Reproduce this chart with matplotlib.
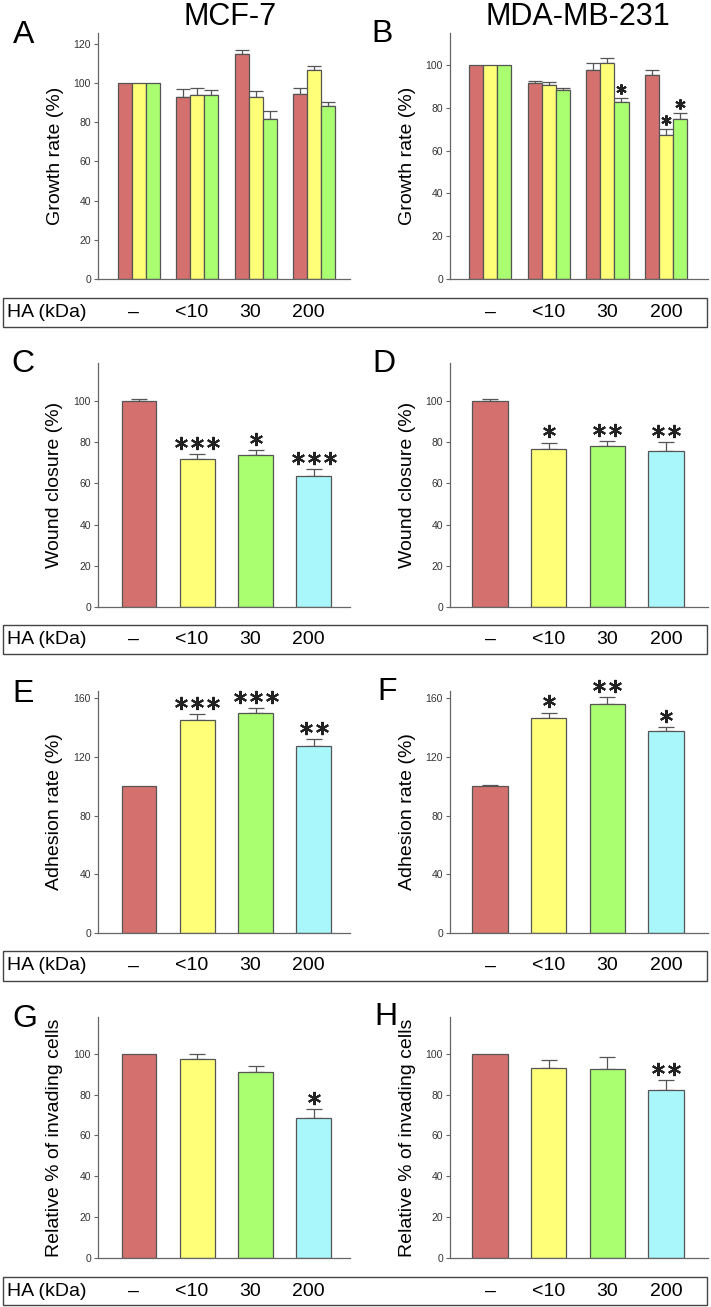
import matplotlib.pyplot as plt
from matplotlib.patches import Rectangle
from matplotlib.transforms import ScaledTranslation, blended_transform_factory

plt.rcParams['font.family'] = ['Liberation Sans', 'DejaVu Sans']

W, H = 711, 1307

# HA molecular weight groups shown under every panel
ha_groups = ['\u2013', '<10', '30', '200']
cell_lines = ['MCF-7', 'MDA-MB-231']

# A / B: growth rate, three series per HA group
growth_mcf7_s1 = [100, 92.9, 114.6, 94.6]
growth_mcf7_s2 = [100, 94.1, 92.8, 106.7]
growth_mcf7_s3 = [100, 94.1, 81.7, 88.5]
growth_mcf7_e1 = [0, 4.1, 2.0, 2.8]
growth_mcf7_e2 = [0, 3.4, 3.2, 2.1]
growth_mcf7_e3 = [0, 2.1, 4.1, 1.9]

growth_mda_s1 = [100, 91.6, 97.8, 95.5]
growth_mda_s2 = [100, 90.5, 100.8, 67.1]
growth_mda_s3 = [100, 88.5, 82.7, 74.8]
growth_mda_e1 = [0, 1.1, 3.3, 2.2]
growth_mda_e2 = [0, 1.6, 2.5, 3.1]
growth_mda_e3 = [0, 0.9, 1.9, 2.6]
growth_mda_stars2 = [0, 0, 0, 1]
growth_mda_stars3 = [0, 0, 1, 1]

# C / D: wound closure
wound_mcf7 = [100, 72.0, 73.7, 63.7]
wound_mcf7_err = [0.8, 2.1, 2.3, 3.1]
wound_mcf7_stars = [0, 3, 1, 3]
wound_mda = [100, 76.9, 78.3, 75.9]
wound_mda_err = [1.0, 2.9, 2.4, 4.2]
wound_mda_stars = [0, 1, 2, 2]

# E / F: adhesion
adh_mcf7 = [100, 144.9, 150.2, 127.6]
adh_mcf7_err = [0, 4.2, 3.4, 4.8]
adh_mcf7_stars = [0, 3, 3, 2]
adh_mda = [100, 146.7, 155.9, 137.5]
adh_mda_err = [0.9, 3.6, 5.0, 2.9]
adh_mda_stars = [0, 1, 2, 1]

# G / H: invasion
inv_mcf7 = [100, 97.4, 91.0, 68.7]
inv_mcf7_err = [0, 2.3, 2.8, 4.4]
inv_mcf7_stars = [0, 0, 0, 1]
inv_mda = [100, 92.8, 92.5, 82.4]
inv_mda_err = [0, 4.1, 5.7, 4.9]
inv_mda_stars = [0, 0, 0, 2]

RED = '#d4716f'
YEL = '#ffff78'
GRN = '#a9ff70'
CYN = '#a9f7fa'
EDGE = '#555555'

fig = plt.figure(figsize=(W / 100, H / 100), dpi=100)

rows = [(33, 279), (363, 607), (691, 933), (1017, 1258)]
cols = [(98, 350, 139, 58.3), (450, 708, 490, 58.7)]


def make_axes(r, c):
    top, bottom = rows[r]
    left, right, c0, step = cols[c]
    ax = fig.add_axes([left / W, 1 - bottom / H, (right - left) / W, (bottom - top) / H])
    ax.set_xlim((left - c0) / step, (right - c0) / step)
    return ax


def style(ax, ytop, ticks, ylabel):
    ax.set_ylim(0, ytop)
    ax.set_yticks(ticks)
    ax.set_xticks([])
    for s in ['top', 'right']:
        ax.spines[s].set_visible(False)
    for s in ['left', 'bottom']:
        ax.spines[s].set_color('#666666')
        ax.spines[s].set_linewidth(0.9)
    ax.tick_params(axis='y', length=3, width=0.8, color='#666666',
                   labelsize=7.5, labelcolor='#333333', pad=2)
    w_px = ax.get_position().width * W
    ax.text(-43 / w_px, 0.5, ylabel, transform=ax.transAxes, rotation=90,
            ha='center', va='center', fontsize=14)


def bars(ax, xs, vals, errs, color, width, cap):
    ax.bar(xs, vals, width, color=color, edgecolor=EDGE, linewidth=0.9, zorder=2)
    ex = [x for x, e in zip(xs, errs) if e > 0]
    ev = [v for v, e in zip(vals, errs) if e > 0]
    ee = [e for e in errs if e > 0]
    ax.errorbar(ex, ev, yerr=[[0] * len(ee), ee], fmt='none', ecolor=EDGE,
                elinewidth=0.9, capsize=cap, capthick=0.9, zorder=1)


def stars(ax, xs, vals, errs, counts, ms, lift, gap):
    for x, v, e, n in zip(xs, vals, errs, counts):
        for k in range(n):
            off = ScaledTranslation((k - (n - 1) / 2) * gap / 72, lift / 72, fig.dpi_scale_trans)
            ax.plot([x], [v + e], marker=(6, 2, 0), ms=ms, mew=1.5, color='#222222',
                    transform=ax.transData + off, clip_on=False, zorder=3)


idx = list(range(len(ha_groups)))

# A
ax = make_axes(0, 0)
w3 = 0.24
for d, v, e, col in [(-w3, growth_mcf7_s1, growth_mcf7_e1, RED),
                     (0, growth_mcf7_s2, growth_mcf7_e2, YEL),
                     (w3, growth_mcf7_s3, growth_mcf7_e3, GRN)]:
    bars(ax, [i + d for i in idx], v, e, col, w3, 5)
style(ax, 125.5, range(0, 121, 20), 'Growth rate (%)')
axes_grid = [[ax]]

# B
ax = make_axes(0, 1)
for d, v, e, col, st in [(-w3, growth_mda_s1, growth_mda_e1, RED, [0, 0, 0, 0]),
                         (0, growth_mda_s2, growth_mda_e2, YEL, growth_mda_stars2),
                         (w3, growth_mda_s3, growth_mda_e3, GRN, growth_mda_stars3)]:
    xs = [i + d for i in idx]
    bars(ax, xs, v, e, col, w3, 5)
    stars(ax, xs, v, e, st, 7.5, 6.5, 9)
style(ax, 115, range(0, 101, 20), 'Growth rate (%)')
axes_grid[0].append(ax)

single = [
    (1, wound_mcf7, wound_mcf7_err, wound_mcf7_stars, wound_mda, wound_mda_err, wound_mda_stars,
     118.4, range(0, 101, 20), 'Wound closure (%)'),
    (2, adh_mcf7, adh_mcf7_err, adh_mcf7_stars, adh_mda, adh_mda_err, adh_mda_stars,
     165, range(0, 161, 40), 'Adhesion rate (%)'),
    (3, inv_mcf7, inv_mcf7_err, inv_mcf7_stars, inv_mda, inv_mda_err, inv_mda_stars,
     118, range(0, 101, 20), 'Relative % of invading cells'),
]
colors4 = [RED, YEL, GRN, CYN]
for r, v1, e1, s1, v2, e2, s2, ytop, ticks, lab in single:
    row_axes = []
    for c, (v, e, s) in enumerate([(v1, e1, s1), (v2, e2, s2)]):
        ax = make_axes(r, c)
        for i in idx:
            bars(ax, [i], [v[i]], [e[i]], colors4[i], 0.6, 6)
        stars(ax, idx, v, e, s, 9.5, 8, 11.5)
        style(ax, ytop, ticks, lab)
        row_axes.append(ax)
    axes_grid.append(row_axes)

# HA rows under every pair of panels
boxes = [(298, 327), (625, 654), (951, 981), (1277, 1305)]
for (top, bottom), row_axes in zip(boxes, axes_grid):
    fig.add_artist(Rectangle((3 / W, 1 - bottom / H), 704 / W, (bottom - top) / H,
                             transform=fig.transFigure, fill=False, ec='#444444', lw=1))
    yc = 1 - (top + bottom) / 2 / H
    fig.text(7 / W, yc, 'HA (kDa)', ha='left', va='center', fontsize=14)
    for c, ax in enumerate(row_axes):
        tr = blended_transform_factory(ax.transData, fig.transFigure)
        shift = -0.1 if c == 0 else 0.0
        for i, g in zip(idx, ha_groups):
            fig.text(i + shift, yc, g, transform=tr, ha='center', va='center', fontsize=14)

# titles and panel letters
fig.text(230 / W, 1 - 25 / H, cell_lines[0], ha='center', va='baseline', fontsize=22)
fig.text(578 / W, 1 - 25 / H, cell_lines[1], ha='center', va='baseline', fontsize=22)
letters = [('A', 13, 43), ('B', 371, 42), ('C', 11, 372), ('D', 372, 372),
           ('E', 12, 702), ('F', 377, 700), ('G', 12, 1027), ('H', 374, 1025)]
for t, x, y in letters:
    fig.text(x / W, 1 - y / H, t, ha='left', va='baseline', fontsize=23)

fig.savefig('out.png', dpi=100)
